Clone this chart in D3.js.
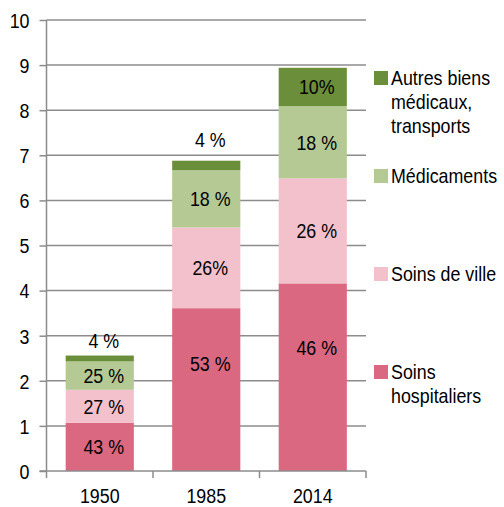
<!DOCTYPE html>
<html>
<head>
<meta charset="utf-8">
<script src="https://cdn.jsdelivr.net/npm/d3@7"></script>
<style>
  body { margin: 0; background: #fff; }
  text { font-family: "Liberation Sans", Arial, sans-serif; fill: #000; }
</style>
</head>
<body>
<div id="chart"></div>
<script>
// data
const years = ["1950", "1985", "2014"];
const seriesNames = ["Soins hospitaliers", "Soins de ville", "Médicaments", "Autres biens médicaux, transports"];
const hospitaliers = [1.07, 3.61, 4.16];
const ville = [0.73, 1.79, 2.33];
const medicaments = [0.63, 1.27, 1.60];
const autres = [0.13, 0.21, 0.85];
const labelsHosp = ["43 %", "53 %", "46 %"];
const labelsVille = ["27 %", "26%", "26 %"];
const labelsMed = ["25 %", "18 %", "18 %"];
const labelsAutres = ["4 %", "4 %", "10%"];
const yTicks = [0, 1, 2, 3, 4, 5, 6, 7, 8, 9, 10];
const colors = ["#da6880", "#f2c1cb", "#b4c993", "#6b8e3a"];

const width = 504, height = 507;
const x0 = 46.5, x1 = 366, yTop = 20, yBot = 471;
const fs = "21px", sx = 0.85;

const svg = d3.select("#chart").append("svg")
  .attr("width", width)
  .attr("height", height);

// narrow text helper
function put(g, tx, ty, str, anchor) {
  return g.append("text")
    .attr("transform", "translate(" + tx + "," + ty + ") scale(" + sx + ",1)")
    .attr("text-anchor", anchor || "start")
    .attr("dy", "0.35em")
    .style("font-size", fs)
    .text(str);
}

const x = d3.scaleBand()
  .domain(years)
  .range([x0, x1])
  .paddingInner(0.36)
  .paddingOuter(0.18);

const y = d3.scaleLinear()
  .domain([0, 10])
  .range([yBot, yTop]);

// gridlines
svg.append("g")
  .selectAll("line")
  .data(yTicks.filter(d => d > 0))
  .enter().append("line")
  .attr("x1", x0)
  .attr("x2", x1)
  .attr("y1", d => y(d))
  .attr("y2", d => y(d))
  .attr("stroke", "#8c8c8c")
  .attr("stroke-width", 1.5);

// stacking
const table = years.map((yr, i) => ({
  year: yr,
  s0: hospitaliers[i], s1: ville[i], s2: medicaments[i], s3: autres[i]
}));
const stack = d3.stack().keys(["s0", "s1", "s2", "s3"]);
const layers = stack(table);

svg.append("g")
  .selectAll("g")
  .data(layers)
  .enter().append("g")
  .attr("fill", (d, i) => colors[i])
  .selectAll("rect")
  .data(d => d)
  .enter().append("rect")
  .attr("x", d => x(d.data.year))
  .attr("width", x.bandwidth())
  .attr("y", d => y(d[1]))
  .attr("height", d => y(d[0]) - y(d[1]));

// axes
const yAxis = svg.append("g")
  .attr("transform", "translate(" + x0 + ",0)")
  .call(d3.axisLeft(y).tickValues(yTicks).tickSize(7));
yAxis.select(".domain").attr("stroke", "#8c8c8c").attr("stroke-width", 1.5).attr("d", "M0," + yTop + "V" + (yBot + 0.5));
yAxis.selectAll(".tick line").attr("stroke", "#8c8c8c").attr("stroke-width", 1.5);
yAxis.selectAll(".tick text")
  .attr("x", -17 / sx)
  .attr("dy", "0.35em")
  .attr("transform", "scale(" + sx + ",1)")
  .style("font-size", fs)
  .style("font-family", "'Liberation Sans', Arial, sans-serif")
  .attr("fill", "#000");

const xAxis = svg.append("g")
  .attr("transform", "translate(0," + yBot + ")");
xAxis.append("line")
  .attr("x1", x0 - 7).attr("x2", x1)
  .attr("stroke", "#8c8c8c").attr("stroke-width", 1.5);
const bounds = d3.range(years.length + 1).map(i => x0 + i * (x1 - x0) / years.length);
xAxis.selectAll(".xt")
  .data(bounds)
  .enter().append("line")
  .attr("x1", d => d).attr("x2", d => d)
  .attr("y1", 0).attr("y2", 7)
  .attr("stroke", "#8c8c8c").attr("stroke-width", 1.5);
years.forEach(yr => put(xAxis, x(yr) + x.bandwidth() / 2, 24.5, yr, "middle"));

// segment labels
const allLabels = [labelsHosp, labelsVille, labelsMed, labelsAutres];
const lblG = svg.append("g");
layers.forEach((layer, k) => {
  layer.forEach((d, i) => {
    let py = y((d[0] + d[1]) / 2);
    if (k === 0 && d[1] > 3) py = y(d[0] + (d[1] - d[0]) * 0.66);
    const segH = y(d[0]) - y(d[1]);
    if (k === 3 && segH < 20) py = y(d[1]) - (5 + 1.7 * segH);
    put(lblG, x(d.data.year) + x.bandwidth() / 2 + 4, py, allLabels[k][i], "middle");
  });
});

// legend
const legendItems = [
  { c: colors[3], lines: ["Autres biens", "médicaux,", "transports"], top: 78 },
  { c: colors[2], lines: ["Médicaments"], top: 176 },
  { c: colors[1], lines: ["Soins de ville"], top: 274 },
  { c: colors[0], lines: ["Soins", "hospitaliers"], top: 372 }
];
const lg = svg.append("g");
legendItems.forEach(it => {
  lg.append("rect")
    .attr("x", 374).attr("y", it.top - 7)
    .attr("width", 14).attr("height", 14)
    .attr("fill", it.c);
  it.lines.forEach((t, j) => put(lg, 391, it.top + j * 24, t));
});
</script>
</body>
</html>
